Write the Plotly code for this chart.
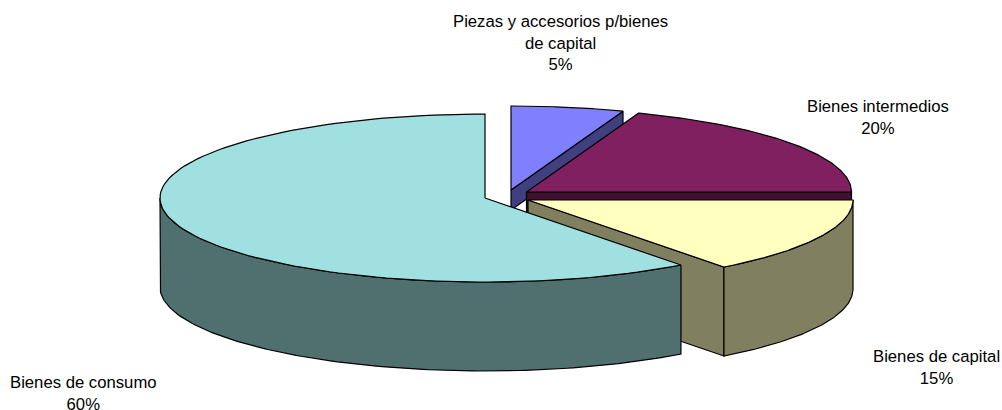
import numpy as np
import plotly.graph_objects as go

# Data (clockwise from 12 o'clock)
categories = ["Piezas y accesorios p/bienes<br>de capital", "Bienes intermedios", "Bienes de capital", "Bienes de consumo"]
shares = [5.6, 19.4, 14.7, 60.3]
pct_labels = ["5%", "20%", "15%", "60%"]

# Style
top_colors = ["#8080FF", "#802060", "#FFFFC0", "#A0E0E0"]
side_colors = ["#404080", "#401030", "#808060", "#507070"]
label_x = [560, 877.5, 936.5, 83]
label_y = [43, 117, 367.5, 393]

# 3D pie projection (pixel-based axes)
RX, RY, DEPTH = 325.0, 84.0, 89.0
apex_x = [511, 526.5, 528, 485]
apex_y = [190, 192, 200, 198]

fig = go.Figure()


def poly(xs, ys, color, width=1.2):
    fig.add_trace(go.Scatter(
        x=list(xs), y=list(ys), mode="lines", fill="toself", fillcolor=color,
        line=dict(color="black", width=width), hoverinfo="skip", showlegend=False))


def rim(cx, cy, a0, a1, n=120):
    t = np.radians(np.linspace(a0, a1, n))
    return cx + RX * np.sin(t), cy - RY * np.cos(t)


bounds = np.concatenate([[0], np.cumsum(shares)]) / sum(shares) * 360
for i in range(len(shares)):
    a0, a1 = bounds[i], bounds[i + 1]
    cx, cy = apex_x[i], apex_y[i]
    if i == 1 or i == 2:
        rx, ry = rim(cx, cy, a1, a1, 1)
        poly([cx, rx[0], rx[0], cx, cx], [cy, ry[0], ry[0] + DEPTH, cy + DEPTH, cy], side_colors[i])
    if i == 0:
        rx, ry = rim(cx, cy, a1, a1, 1)
        poly([cx, rx[0], rx[0], cx, cx], [cy, ry[0], ry[0] + 20, cy + 20, cy], side_colors[i])
    v0, v1 = max(a0, 90), min(a1, 270)
    if v1 > v0:
        wx, wy = rim(cx, cy, v0, v1)
        poly(np.concatenate([wx, wx[::-1], wx[:1]]), np.concatenate([wy, wy[::-1] + DEPTH, wy[:1]]), side_colors[i])
    tx, ty = rim(cx, cy, a0, a1)
    poly(np.concatenate([[cx], tx, [cx]]), np.concatenate([[cy], ty, [cy]]), top_colors[i])

annotations = [
    dict(x=x, y=y, xref="x", yref="y", text=f"{c}<br>{p}", showarrow=False, align="center",
         xanchor="center", yanchor="middle",
         font=dict(family="Liberation Sans, Arial, sans-serif", size=16.7, color="black"))
    for c, p, x, y in zip(categories, pct_labels, label_x, label_y)
]

fig.update_layout(
    width=1002, height=410, margin=dict(l=0, r=0, t=0, b=0),
    paper_bgcolor="white", plot_bgcolor="white", showlegend=False,
    xaxis=dict(range=[0, 1002], visible=False, fixedrange=True),
    yaxis=dict(range=[410, 0], visible=False, fixedrange=True),
    annotations=annotations,
)
fig.write_html("out.html", config={"displayModeBar": False},
               post_script="document.body.style.margin='0';")
